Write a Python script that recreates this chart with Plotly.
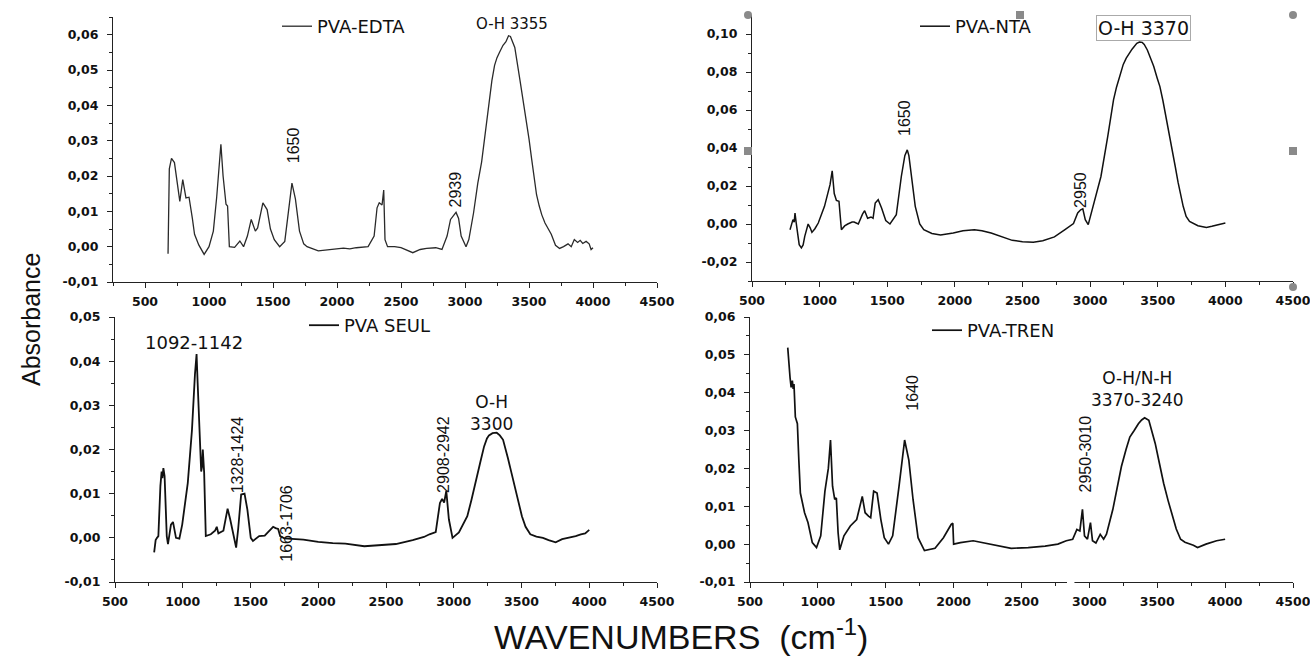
import plotly.graph_objects as go

# ---------------- data ----------------
EDTA_X = [680, 690, 707, 730, 772, 795, 820, 844, 870, 887, 920, 962, 1000, 1034, 1060, 1080, 1093, 1110,
          1133, 1145, 1159, 1200, 1241, 1270, 1300, 1330, 1362, 1380, 1400, 1421, 1454, 1480, 1510, 1533,
          1552, 1592, 1620, 1648, 1675, 1707, 1740, 1766, 1854, 1950, 2050, 2100, 2150, 2243, 2290, 2313,
          2330, 2352, 2365, 2375, 2395, 2450, 2500, 2592, 2650, 2700, 2772, 2820, 2860, 2887, 2930, 2950,
          2970, 3008, 3030, 3067, 3100, 3130, 3149, 3170, 3190, 3210, 3231, 3250, 3270, 3297, 3320, 3340,
          3355, 3370, 3389, 3430, 3455, 3477, 3500, 3520, 3540, 3559, 3580, 3600, 3625, 3674, 3707, 3739,
          3770, 3805, 3830, 3854, 3880, 3900, 3920, 3946, 3970, 3985, 4000]
EDTA_Y = [-0.002, 0.022, 0.025, 0.0238, 0.0128, 0.019, 0.0138, 0.014, 0.008, 0.0035, 0.0005, -0.0022, 0.0,
          0.0044, 0.014, 0.022, 0.029, 0.020, 0.012, 0.0115, 0.0, -0.0002, 0.0016, 0.0, 0.003, 0.0077, 0.0044,
          0.0053, 0.0085, 0.0124, 0.0105, 0.005, 0.002, 0.0008, 0.0, 0.0015, 0.009, 0.018, 0.0135, 0.0044,
          0.0008, 0.0, -0.0012, -0.0008, -0.0004, -0.0006, -0.0003, 0.0, 0.003, 0.011, 0.0124, 0.0118, 0.016,
          0.002, 0.0, 0.0, -0.0003, -0.0017, -0.0008, -0.0005, -0.0003, -0.0008, 0.003, 0.0077, 0.0097, 0.008,
          0.003, 0.0, 0.002, 0.0096, 0.018, 0.024, 0.0297, 0.036, 0.042, 0.047, 0.0513, 0.0535, 0.055, 0.057,
          0.058, 0.0597, 0.0595, 0.058, 0.0564, 0.047, 0.0415, 0.0363, 0.0305, 0.025, 0.0195, 0.0147, 0.0115,
          0.009, 0.0067, 0.0035, 0.0004, -0.0005, 0.0, 0.0008, 0.0, 0.002, 0.0012, 0.0018, 0.0009, 0.0015,
          0.0008, -0.0008, -0.0003]

NTA_X = [781, 793, 803, 812, 818, 826, 834, 849, 865, 878, 890, 915, 930, 943, 965, 990, 1036, 1077, 1093,
         1108, 1124, 1143, 1161, 1185, 1208, 1240, 1255, 1286, 1317, 1333, 1355, 1380, 1395, 1411, 1433, 1458,
         1489, 1520, 1567, 1604, 1630, 1648, 1660, 1676, 1707, 1740, 1770, 1830, 1894, 1988, 2060, 2144, 2200,
         2268, 2350, 2424, 2500, 2580, 2650, 2736, 2814, 2877, 2908, 2930, 2946, 2964, 2986, 3017, 3080, 3130,
         3150, 3173, 3195, 3220, 3245, 3267, 3290, 3310, 3345, 3365, 3385, 3400, 3423, 3445, 3470, 3495, 3516,
         3538, 3560, 3585, 3610, 3630, 3650, 3670, 3688, 3710, 3735, 3797, 3860, 3900, 3938, 3970, 4000]
NTA_Y = [-0.003, -0.0005, 0.0023, 0.001, 0.0058, 0.001, -0.004, -0.0109, -0.0126, -0.011, -0.0065, 0.0,
         -0.002, -0.0044, -0.0025, 0.0005, 0.0093, 0.0207, 0.028, 0.016, 0.0124, 0.012, -0.003, -0.001, 0.0,
         0.001, 0.001, 0.0, 0.0052, 0.007, 0.003, 0.0037, 0.003, 0.011, 0.0128, 0.0084, 0.0018, 0.0, 0.0049,
         0.025, 0.036, 0.039, 0.036, 0.0268, 0.0093, 0.0, -0.003, -0.005, -0.0058, -0.0047, -0.0035, -0.003,
         -0.0035, -0.0047, -0.0068, -0.0086, -0.0093, -0.0096, -0.0088, -0.0068, -0.003, 0.0002, 0.0058,
         0.0075, 0.008, 0.0023, -0.0003, 0.0084, 0.025, 0.046, 0.0555, 0.0653, 0.072, 0.078, 0.084, 0.0873,
         0.090, 0.092, 0.0951, 0.0958, 0.0956, 0.0945, 0.0916, 0.088, 0.083, 0.077, 0.0723, 0.065, 0.057,
         0.048, 0.039, 0.030, 0.022, 0.015, 0.0093, 0.004, 0.0014, -0.0009, -0.0018, -0.0012, -0.0007,
         -0.0002, 0.0005]

SEUL_X = [789, 800, 810, 820, 835, 844, 850, 857, 866, 882, 891, 913, 928, 940, 950, 975, 996, 1037, 1068,
          1090, 1102, 1110, 1121, 1136, 1142, 1148, 1158, 1170, 1207, 1238, 1251, 1263, 1300, 1331, 1350, 1378,
          1394, 1409, 1431, 1456, 1477, 1502, 1518, 1564, 1605, 1626, 1667, 1685, 1704, 1719, 1750, 1890, 2000,
          2107, 2200, 2340, 2450, 2573, 2697, 2780, 2821, 2867, 2898, 2914, 2929, 2945, 2964, 2991, 3038, 3100,
          3130, 3162, 3195, 3224, 3245, 3260, 3286, 3317, 3340, 3364, 3380, 3400, 3426, 3450, 3470, 3503, 3530,
          3565, 3610, 3658, 3700, 3752, 3800, 3845, 3900, 3938, 3970, 4000]
SEUL_Y = [-0.0033, -0.0005, 0.0, 0.0004, 0.0117, 0.015, 0.0135, 0.0158, 0.014, 0.0004, -0.0014, 0.003,
          0.0036, 0.001, 0.0, -0.0002, 0.003, 0.0124, 0.0244, 0.037, 0.0416, 0.035, 0.0244, 0.015, 0.016, 0.020,
          0.0147, 0.0004, 0.0008, 0.0016, 0.0025, 0.001, 0.0016, 0.0066, 0.0042, 0.0, -0.0022, 0.002, 0.0098,
          0.010, 0.0064, 0.0, -0.0007, 0.0004, 0.0005, 0.0012, 0.0025, 0.0022, 0.002, 0.0004, -0.0001, -0.0004,
          -0.0009, -0.0012, -0.0013, -0.0019, -0.0016, -0.0014, -0.0005, 0.0002, 0.0008, 0.0013, 0.0079, 0.0088,
          0.008, 0.0106, 0.0042, 0.0, 0.0012, 0.0049, 0.0085, 0.0124, 0.017, 0.0207, 0.0225, 0.0232, 0.0237,
          0.0238, 0.0232, 0.0222, 0.0205, 0.018, 0.0147, 0.0115, 0.009, 0.0049, 0.0025, 0.0008, 0.0003, 0.0,
          -0.0005, -0.001, -0.0003, 0.0, 0.0004, 0.0008, 0.001, 0.0018]

TREN_X = [778, 787, 795, 803, 812, 818, 824, 834, 849, 860, 871, 902, 927, 959, 990, 1021, 1052, 1077, 1093,
          1108, 1124, 1136, 1149, 1161, 1192, 1239, 1286, 1327, 1348, 1373, 1389, 1411, 1436, 1464, 1489, 1520,
          1551, 1598, 1639, 1670, 1701, 1738, 1785, 1863, 1925, 1982, 1994, 2000, 2050, 2144, 2237, 2331, 2424,
          2549, 2674, 2768, 2830, 2877, 2908, 2930, 2949, 2964, 2986, 3008, 3023, 3048, 3080, 3105, 3126, 3173,
          3200, 3236, 3270, 3298, 3330, 3361, 3385, 3407, 3438, 3460, 3485, 3515, 3547, 3580, 3610, 3640, 3672,
          3704, 3766, 3797, 3859, 3937, 4000]
TREN_Y = [0.0519, 0.0458, 0.044, 0.0414, 0.0432, 0.041, 0.0423, 0.0336, 0.0318, 0.022, 0.0135, 0.0083,
          0.0057, 0.0004, -0.0009, 0.0022, 0.014, 0.020, 0.0275, 0.0153, 0.0118, 0.0122, 0.003, -0.0015, 0.0022,
          0.0048, 0.0065, 0.0126, 0.0083, 0.0074, 0.007, 0.014, 0.0135, 0.0065, 0.0017, 0.0, 0.0022, 0.0153,
          0.0275, 0.0222, 0.0118, 0.0017, -0.0017, -0.0011, 0.0017, 0.0052, 0.0055, 0.0, 0.0004, 0.0009, 0.0002,
          -0.0006, -0.0011, -0.0009, -0.0005, 0.0, 0.0009, 0.0013, 0.0039, 0.0035, 0.0092, 0.0022, 0.0013,
          0.0057, 0.0009, 0.0003, 0.0026, 0.0013, 0.0026, 0.0092, 0.014, 0.0205, 0.025, 0.0283, 0.030, 0.0318,
          0.0328, 0.0334, 0.0327, 0.030, 0.0266, 0.0215, 0.0161, 0.0115, 0.0074, 0.004, 0.0013, 0.0005,
          -0.0003, -0.0009, 0.0, 0.0009, 0.0013]

SERIES_NAMES = ["PVA-EDTA", "PVA-NTA", "PVA SEUL", "PVA-TREN"]

X_TICKS = [500, 1000, 1500, 2000, 2500, 3000, 3500, 4000, 4500]
X_TICKTEXT = ["500", "1000", "1500", "2000", "2500", "3000", "3500", "4000", "4500"]
Y1_TICKS = [-0.01, 0.0, 0.01, 0.02, 0.03, 0.04, 0.05, 0.06]
Y1_TICKTEXT = ["-0,01", "0,00", "0,01", "0,02", "0,03", "0,04", "0,05", "0,06"]
Y2_TICKS = [-0.02, 0.0, 0.02, 0.04, 0.06, 0.08, 0.10]
Y2_TICKTEXT = ["-0,02", "0,00", "0,02", "0,04", "0,06", "0,08", "0,10"]
Y3_TICKS = [-0.01, 0.0, 0.01, 0.02, 0.03, 0.04, 0.05]
Y3_TICKTEXT = ["-0,01", "0,00", "0,01", "0,02", "0,03", "0,04", "0,05"]
Y4_TICKS = [-0.01, 0.0, 0.01, 0.02, 0.03, 0.04, 0.05, 0.06]
Y4_TICKTEXT = ["-0,01", "0,00", "0,01", "0,02", "0,03", "0,04", "0,05", "0,06"]

# peak labels: (panel, text, x, y)
ROT_LABELS = [
    (1, "1650", 1656, 0.0287), (1, "2939", 2922, 0.0162),
    (2, "1650", 1631, 0.0558), (2, "2950", 2932, 0.0179),
    (3, "1328-1424", 1400, 0.0189), (3, "1663-1706", 1769, 0.0034), (3, "2908-2942", 2928, 0.0190),
    (4, "1640", 1701, 0.0400), (4, "2950-3010", 2968, 0.0237),
]
FLAT_LABELS = [
    (1, "O-H 3355", 3367, 0.0630, 15),
    (3, "1092-1142", 1083, 0.0443, 18),
    (3, "O-H<br>3300", 3282, 0.0282, 17),
    (4, "O-H/N-H<br>3370-3240", 3358, 0.0410, 17),
]
BOX_LABEL = (2, "O-H 3370", 3391, 0.1030)

# ---------------- figure ----------------
WIDE = "DejaVu Sans, Verdana, sans-serif"
ARIAL = "Liberation Sans, Arial, sans-serif"

series = [(EDTA_X, EDTA_Y, "#2a2a2a", 1.3), (NTA_X, NTA_Y, "#111111", 1.5),
          (SEUL_X, SEUL_Y, "#111111", 1.8), (TREN_X, TREN_Y, "#111111", 1.7)]

fig = go.Figure()
for i, (xs, ys, col, w) in enumerate(series):
    sfx = "" if i == 0 else str(i + 1)
    fig.add_trace(go.Scatter(
        x=xs, y=ys, mode="lines", name=SERIES_NAMES[i],
        line=dict(color=col, width=w),
        xaxis="x" + sfx, yaxis="y" + sfx,
        legend="legend" + sfx, showlegend=True,
    ))

W, H = 1310, 656


def px_x(p):
    return p / W


def px_y(p):
    return 1 - p / H


def axis_common():
    return dict(
        showline=True, linecolor="#222", linewidth=1, ticks="outside", ticklen=5,
        tickcolor="#222", showgrid=False, zeroline=False, automargin=False,
        ticklabeloverflow="allow",
        tickfont=dict(family=WIDE, size=12.5, color="#111", weight="bold"),
        minor=dict(ticks="outside", ticklen=3, tickcolor="#222"),
    )


xdoms = [(113, 657), (752, 1293), (115, 657), (750, 1293)]
ydoms = [(282, 17), (281, 15), (582, 317), (582, 317)]
xranges = [[250, 4500], [500, 4500], [500, 4500], [500, 4500]]
yranges = [[-0.01, 0.065], [-0.03, 0.11], [-0.01, 0.05], [-0.01, 0.06]]
yt = [(Y1_TICKS, Y1_TICKTEXT, 0.005), (Y2_TICKS, Y2_TICKTEXT, 0.01),
      (Y3_TICKS, Y3_TICKTEXT, 0.005), (Y4_TICKS, Y4_TICKTEXT, 0.005)]

layout = {}
for i in range(4):
    sfx = "" if i == 0 else str(i + 1)
    xa = axis_common()
    xa.update(domain=[px_x(xdoms[i][0]), px_x(xdoms[i][1])], range=xranges[i],
              anchor="y" + sfx, tickvals=X_TICKS, ticktext=X_TICKTEXT, ticklabelstandoff=3)
    xa["minor"].update(dtick=250, tick0=250)
    ya = axis_common()
    ya.update(domain=[px_y(ydoms[i][0]), px_y(ydoms[i][1])], range=yranges[i],
              anchor="x" + sfx, tickvals=yt[i][0], ticktext=yt[i][1], ticklabelstandoff=6)
    ya["minor"].update(dtick=yt[i][2], tick0=0)
    layout["xaxis" + sfx] = xa
    layout["yaxis" + sfx] = ya

legend_pos = [(277, 8), (915, 8), (304, 307), (927, 312)]
for i in range(4):
    key = "legend" if i == 0 else "legend" + str(i + 1)
    layout[key] = dict(x=px_x(legend_pos[i][0]), y=px_y(legend_pos[i][1]), xanchor="left",
                       yanchor="top", bgcolor="rgba(0,0,0,0)", borderwidth=0,
                       font=dict(family=WIDE, size=18, color="#111"), itemwidth=30)

annotations = []
for (p, txt, x, y) in ROT_LABELS:
    sfx = "" if p == 1 else str(p)
    annotations.append(dict(x=x, y=y, xref="x" + sfx, yref="y" + sfx, text=txt, textangle=-90,
                            showarrow=False, font=dict(family=ARIAL, size=16, color="#111")))
for (p, txt, x, y, fs) in FLAT_LABELS:
    sfx = "" if p == 1 else str(p)
    annotations.append(dict(x=x, y=y, xref="x" + sfx, yref="y" + sfx, text=txt,
                            showarrow=False, font=dict(family=WIDE, size=fs, color="#111")))
p, txt, x, y = BOX_LABEL
annotations.append(dict(x=x, y=y, xref="x" + str(p), yref="y" + str(p), text=txt, showarrow=False,
                        font=dict(family=WIDE, size=19, color="#111"), bordercolor="#aaaaaa",
                        borderwidth=1, borderpad=1))
annotations.append(dict(x=px_x(31), y=px_y(320), xref="paper", yref="paper", text="Absorbance",
                        textangle=-90, showarrow=False, xanchor="center", yanchor="middle",
                        font=dict(family=ARIAL, size=25, color="#111")))
annotations.append(dict(x=px_x(681), y=px_y(634), xref="paper", yref="paper",
                        text="WAVENUMBERS  (cm<sup>-1</sup>)", showarrow=False,
                        xanchor="center", yanchor="middle",
                        font=dict(family=ARIAL, size=34, color="#111")))

shapes = []
# Origin selection handles around the PVA-NTA panel
for (cx, cy, kind) in [(748, 15, "circle"), (1293, 15, "circle"), (1293, 287, "circle"),
                       (1020, 15, "rect"), (748, 151, "rect"), (1293, 151, "rect")]:
    shapes.append(dict(type=kind, xref="paper", yref="paper",
                       x0=px_x(cx - 4), x1=px_x(cx + 4), y0=px_y(cy + 4), y1=px_y(cy - 4),
                       fillcolor="#8a8a8a", line=dict(width=0), layer="above"))
# axis break on the PVA-TREN x axis
shapes.append(dict(type="line", xref="x4", yref="y4 domain", x0=2835, x1=2890, y0=0, y1=0,
                   line=dict(color="white", width=4), layer="above"))

fig.update_layout(
    width=W, height=H, margin=dict(l=0, r=0, t=0, b=0, pad=0, autoexpand=False),
    paper_bgcolor="white", plot_bgcolor="white",
    annotations=annotations, shapes=shapes, **layout,
)

fig.write_html("out.html", config={"displayModeBar": False},
               post_script="document.body.style.margin='0px';document.body.style.overflow='hidden';")
